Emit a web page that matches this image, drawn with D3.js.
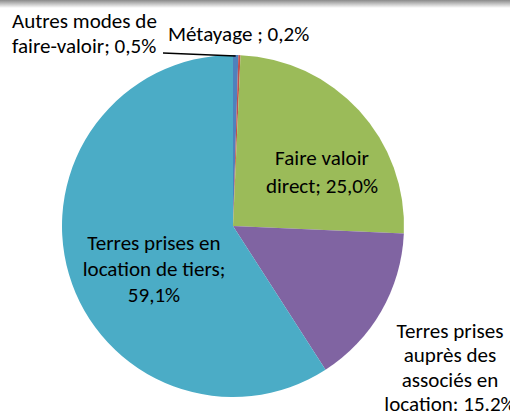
<!DOCTYPE html>
<meta charset="utf-8">
<style>
  body { margin: 0; background: #fff; }
  text { font-family: Carlito, Lato, "Liberation Sans", sans-serif; fill: #000; }
</style>
<svg id="mainsvg" width="510" height="412"></svg>
<script src="https://cdn.jsdelivr.net/npm/d3@7"></script>
<script>

// slices, in drawing order from 12 o'clock clockwise
const names = ["Autres modes de faire-valoir", "Métayage", "Faire valoir direct",
               "Terres prises auprès des associés en location", "Terres prises en location de tiers"];
const values = [0.5, 0.2, 25.0, 15.2, 59.1];
const colors = ["#4f81bd", "#c0504d", "#9bbb59", "#8064a2", "#4bacc6"];

// label lines as printed on the chart
const labelLines = [
  ["Autres modes de", "faire-valoir; 0,5%"],
  ["Métayage ; 0,2%"],
  ["Faire valoir", "direct; 25,0%"],
  ["Terres prises", "auprès des", "associés en", "location: 15.2%"],
  ["Terres prises en", "location de tiers;", "59,1%"]
];

const cx = 233, cy = 226, radius = 171

// label placement (x, first baseline, anchor, line step)
const labelLayout = [
  {x: 12,  y: 28,  anchor: "start",  step: 25},
  {x: 168, y: 41,  anchor: "start",  step: 25},
  {x: 322, y: 165, anchor: "middle", step: 28},
  {x: 450, y: 338, anchor: "middle", step: 24.4},
  {x: 154, y: 250, anchor: "middle", step: 26}
];

const svg = d3.select("#mainsvg")

// grey shade along the top edge
const defs = svg.append("defs")
const grad = defs.append("linearGradient").attr("id", "topshade")
    .attr("x1", 0).attr("y1", 0).attr("x2", 0).attr("y2", 1)
grad.append("stop").attr("offset", "0%").attr("stop-color", "#8a8a8a")
grad.append("stop").attr("offset", "100%").attr("stop-color", "#ffffff")
svg.append("rect").attr("x", 0).attr("y", 0).attr("width", 510).attr("height", 8)
    .attr("fill", "url(#topshade)")

const pie = d3.pie().sort(null).value(d => d)
const arc = d3.arc().innerRadius(0).outerRadius(radius)
const arcs = pie(values)

svg.append("g")
    .attr("transform", `translate(${cx},${cy})`)
  .selectAll("path")
  .data(arcs)
  .join("path")
    .attr("d", arc)
    .attr("fill", (d, i) => colors[i])

// leader line for the small slice
const a0 = arcs[0]
const mid = (a0.startAngle + a0.endAngle) / 2
svg.append("line")
    .attr("x1", 163).attr("y1", 53)
    .attr("x2", cx + radius * Math.sin(mid)).attr("y2", cy - radius * Math.cos(mid) + 1)
    .attr("stroke", "#000").attr("stroke-width", 1.5)

// font size fitted so the first label has the chart's width
const probe = svg.append("text").style("font-size", "20px").text(labelLines[0][0])
const fs = 20 * 145 / probe.node().getComputedTextLength()
probe.remove()

labelLines.forEach((lines, i) => {
  const L = labelLayout[i]
  const t = svg.append("text")
      .attr("text-anchor", L.anchor)
      .style("font-size", fs + "px")
  lines.forEach((s, j) => {
    t.append("tspan").attr("x", L.x).attr("y", L.y + j * L.step).text(s)
  })
})

</script>
